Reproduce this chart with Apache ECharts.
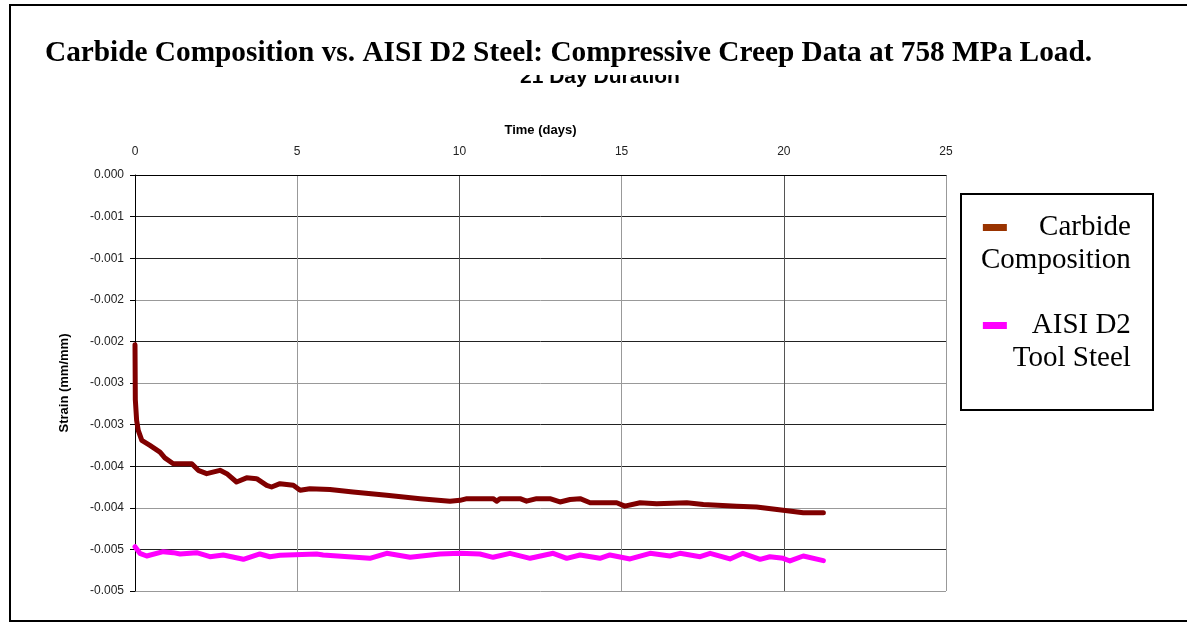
<!DOCTYPE html>
<html>
<head>
<meta charset="utf-8">
<title>Compressive Creep Data</title>
<script src="https://cdn.jsdelivr.net/npm/echarts@6.0.0/dist/echarts.min.js"></script>
<style>
  html, body { margin: 0; padding: 0; background: #fff; }
  #chart { width: 1187px; height: 623px; }
</style>
</head>
<body>
<div id="chart"></div>
<script>
// values
const carbideDays = [0.00, 0.01, 0.05, 0.10, 0.21, 0.46, 0.77, 0.92, 1.18, 1.75, 1.95, 2.21, 2.62, 2.83, 3.13, 3.44, 3.75, 4.06, 4.21, 4.47, 4.88, 5.09, 5.39, 6.01, 6.72, 7.76, 8.79, 9.71, 10.02, 10.23, 11.04, 11.15, 11.25, 11.87, 12.07, 12.38, 12.79, 13.10, 13.41, 13.72, 14.03, 14.85, 15.10, 15.57, 16.08, 17.01, 17.52, 18.55, 19.16, 19.98, 20.60, 21.22];
const carbideStrain = [-0.00204, -0.00270, -0.00295, -0.00307, -0.00319, -0.00325, -0.00333, -0.00340, -0.00347, -0.00347, -0.00355, -0.00359, -0.00355, -0.00359, -0.00369, -0.00364, -0.00365, -0.00373, -0.00375, -0.00371, -0.00373, -0.00379, -0.00377, -0.00378, -0.00381, -0.00385, -0.00389, -0.00392, -0.00391, -0.00389, -0.00389, -0.00392, -0.00389, -0.00389, -0.00392, -0.00389, -0.00389, -0.00393, -0.00390, -0.00389, -0.00394, -0.00394, -0.00398, -0.00394, -0.00395, -0.00394, -0.00396, -0.00398, -0.00399, -0.00403, -0.00406, -0.00406];

const steelDays = [0.00, 0.15, 0.36, 0.87, 1.18, 1.39, 1.90, 2.31, 2.72, 3.34, 3.85, 4.16, 4.47, 5.60, 5.80, 7.24, 7.76, 8.48, 9.40, 10.02, 10.63, 11.04, 11.56, 12.18, 12.89, 13.31, 13.72, 14.33, 14.64, 15.26, 15.88, 16.49, 16.80, 17.42, 17.73, 18.34, 18.74, 19.27, 19.57, 19.98, 20.19, 20.60, 21.22];
const steelStrain = [-0.004467, -0.004547, -0.004579, -0.004527, -0.004539, -0.004555, -0.004539, -0.004588, -0.004567, -0.004619, -0.004555, -0.004588, -0.004571, -0.004555, -0.004567, -0.004607, -0.004547, -0.004595, -0.004555, -0.004547, -0.004555, -0.004595, -0.004547, -0.004607, -0.004547, -0.004607, -0.004567, -0.004607, -0.004567, -0.004615, -0.004547, -0.004579, -0.004547, -0.004588, -0.004547, -0.004615, -0.004547, -0.004619, -0.004588, -0.004607, -0.004639, -0.004579, -0.004635];

const seriesNames = ['Carbide Composition', 'AISI D2 Tool Steel'];
const legendLines = [['Carbide', 'Composition'], ['AISI D2', 'Tool Steel']];
// y tick labels as printed on the original (3 decimals, rounded)
const yTickLabels = ['0.000', '-0.001', '-0.001', '-0.002', '-0.002', '-0.003', '-0.003', '-0.004', '-0.004', '-0.005', '-0.005'];

const pairs = (xs, ys) => xs.map((x, i) => [x, ys[i]]);

let myEcharts = echarts.init(document.getElementById('chart'));
let option = {
    backgroundColor: '#fff',
    animation: false,
    title: [{
        text: '21 Day Duration',
        left: 520,
        top: 67,
        padding: 0,
        z: 5,
        textStyle: {
            fontFamily: 'Liberation Sans',
            fontSize: 21,
            fontWeight: 'bold',
            color: '#000'
        }
    }, {
        text: 'Carbide Composition vs. AISI D2 Steel: Compressive Creep Data at 758 MPa Load.',
        left: 40,
        top: 34,
        padding: [5, 5, 7, 5],
        backgroundColor: '#fff',
        z: 10,
        textStyle: {
            fontFamily: 'Liberation Serif',
            fontSize: 29.3,
            fontWeight: 'bold',
            color: '#000'
        }
    }],
    legend: {
        orient: 'vertical',
        left: 981,
        top: 213,
        padding: 0,
        itemGap: 36,
        itemWidth: 24,
        itemHeight: 7,
        icon: 'rect',
        selectedMode: false,
        data: [
            { name: seriesNames[0], itemStyle: { color: '#993300' } },
            { name: seriesNames[1], itemStyle: { color: '#ff00ff' } }
        ],
        formatter: function (name) {
            let lines = legendLines[seriesNames.indexOf(name)];
            return lines.map(s => '{r|' + s + '}').join('\n');
        },
        textStyle: {
            padding: [33, 0, 0, -33],
            width: 152,
            rich: {
                r: {
                    fontFamily: 'Liberation Serif',
                    fontSize: 29,
                    lineHeight: 33,
                    color: '#000',
                    align: 'right'
                }
            }
        }
    },
    grid: {
        left: 135,
        top: 175,
        width: 811,
        height: 416
    },
    xAxis: {
        type: 'value',
        position: 'top',
        min: 0,
        max: 25,
        interval: 5,
        name: 'Time (days)',
        nameLocation: 'middle',
        nameGap: 38,
        nameTextStyle: {
            fontFamily: 'Liberation Sans',
            fontSize: 13,
            fontWeight: 'bold',
            color: '#000'
        },
        axisLine: { show: true, lineStyle: { color: '#000', width: 1 } },
        axisTick: { show: false },
        axisLabel: {
            margin: 17,
            fontFamily: 'Liberation Sans',
            fontSize: 12,
            color: '#222'
        },
        splitLine: {
            show: true,
            lineStyle: { color: ['#000', '#999', '#555', '#999', '#555', '#999'], width: 1 }
        }
    },
    yAxis: {
        type: 'value',
        min: -0.005,
        max: 0,
        interval: 0.0005,
        name: 'Strain (mm/mm)',
        nameLocation: 'middle',
        nameRotate: 90,
        nameGap: 64,
        nameTextStyle: {
            fontFamily: 'Liberation Sans',
            fontSize: 13,
            fontWeight: 'bold',
            color: '#000'
        },
        axisLine: { show: true, lineStyle: { color: '#000', width: 1 } },
        axisTick: { show: true, length: 5, lineStyle: { color: '#000' } },
        axisLabel: {
            margin: 11,
            fontFamily: 'Liberation Sans',
            fontSize: 12,
            color: '#222',
            formatter: function (v) {
                return yTickLabels[Math.round(-v / 0.0005)];
            }
        },
        splitLine: {
            show: true,
            lineStyle: {
                color: ['#999', '#222', '#999', '#222', '#222', '#999', '#222', '#999', '#222', '#222', '#000'],
                width: 1
            }
        }
    },
    graphic: [{
        type: 'polyline',
        shape: { points: [[1187, 5], [10, 5], [10, 621], [1187, 621]] },
        style: { stroke: '#000', lineWidth: 2, fill: null },
        z: 20
    }, {
        type: 'rect',
        shape: { x: 961, y: 194, width: 192, height: 216 },
        style: { stroke: '#000', lineWidth: 2, fill: null },
        z: 20
    }],
    series: [{
        name: seriesNames[0],
        type: 'line',
        showSymbol: false,
        symbol: 'none',
        data: pairs(carbideDays, carbideStrain),
        lineStyle: { color: '#800000', width: 5, cap: 'round', join: 'round' },
        itemStyle: { color: '#800000' }
    }, {
        name: seriesNames[1],
        type: 'line',
        showSymbol: false,
        symbol: 'none',
        data: pairs(steelDays, steelStrain),
        lineStyle: { color: '#ff00ff', width: 5, cap: 'round', join: 'round' },
        itemStyle: { color: '#ff00ff' }
    }]
};
myEcharts.setOption(option);
</script>
</body>
</html>
